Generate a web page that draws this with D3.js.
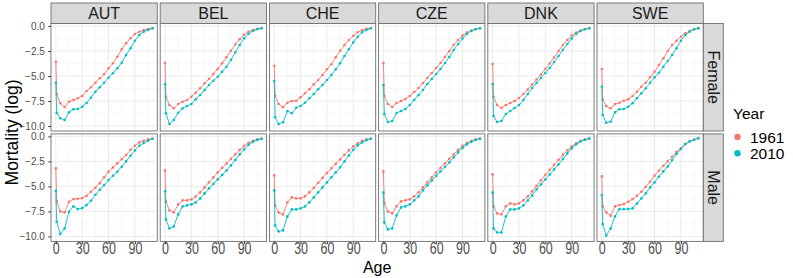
<!DOCTYPE html>
<html><head><meta charset="utf-8">
<script src="https://cdn.jsdelivr.net/npm/d3@7"></script>
<style>body{margin:0;background:#fff}svg{display:block}text{font-family:"Liberation Sans",Arial,sans-serif}</style>
</head><body>
<script>
const ages = [0,1,5,10,15,20,25,30,35,40,45,50,55,60,65,70,75,80,85,90,95,100,105,110];
const countries = ["AUT","BEL","CHE","CZE","DNK","SWE"];
const sexes = ["Female","Male"];
const years = ["1961","2010"];
const xTicks = [0,30,60,90];
const yTicks = [0,-2.5,-5,-7.5,-10];

// log mortality, one array per country / sex / year
const AUT_Female_1961 = [-3.57,-6.83,-7.73,-8.1,-7.57,-7.4,-7.23,-7.0,-6.5,-6.13,-5.67,-5.23,-4.8,-4.23,-3.73,-3.07,-2.33,-1.73,-1.23,-0.8,-0.57,-0.4,-0.3,-0.23];
const AUT_Female_2010 = [-5.67,-8.67,-9.23,-9.4,-8.63,-8.33,-8.3,-8.07,-7.7,-7.17,-6.57,-6.13,-5.67,-5.17,-4.73,-4.23,-3.67,-2.9,-2.23,-1.47,-0.9,-0.57,-0.4,-0.23];
const BEL_Female_1961 = [-3.67,-7.07,-7.9,-8.23,-7.8,-7.57,-7.4,-7.07,-6.67,-6.23,-5.73,-5.3,-4.8,-4.3,-3.73,-3.13,-2.47,-1.83,-1.33,-0.87,-0.57,-0.4,-0.27,-0.23];
const BEL_Female_2010 = [-5.83,-8.73,-9.8,-9.4,-8.67,-8.23,-8.0,-7.8,-7.33,-6.9,-6.4,-5.9,-5.47,-5.07,-4.57,-4.07,-3.4,-2.63,-1.9,-1.23,-0.8,-0.5,-0.33,-0.23];
const CHE_Female_1961 = [-3.97,-6.97,-7.8,-8.13,-7.67,-7.5,-7.47,-7.13,-6.73,-6.33,-5.83,-5.4,-4.9,-4.33,-3.83,-3.13,-2.47,-1.9,-1.4,-0.97,-0.63,-0.4,-0.27,-0.23];
const CHE_Female_2010 = [-5.5,-9.13,-9.8,-9.63,-8.5,-8.73,-8.17,-8.0,-7.67,-7.23,-6.8,-6.33,-5.9,-5.4,-4.9,-4.33,-3.73,-3.0,-2.33,-1.63,-1.07,-0.63,-0.4,-0.23];
const CZE_Female_1961 = [-3.7,-7.0,-7.8,-8.1,-7.7,-7.5,-7.3,-7.0,-6.6,-6.2,-5.7,-5.2,-4.7,-4.2,-3.7,-3.1,-2.5,-1.9,-1.4,-0.95,-0.65,-0.45,-0.3,-0.23];
const CZE_Female_2010 = [-5.9,-8.8,-9.6,-9.5,-8.7,-8.5,-8.3,-7.9,-7.4,-6.9,-6.4,-5.8,-5.3,-4.8,-4.3,-3.7,-3.1,-2.4,-1.8,-1.25,-0.8,-0.5,-0.33,-0.23];
const DNK_Female_1961 = [-3.8,-7.1,-7.9,-8.2,-7.9,-7.7,-7.5,-7.2,-6.8,-6.35,-5.85,-5.35,-4.85,-4.3,-3.75,-3.15,-2.5,-1.9,-1.4,-0.95,-0.65,-0.45,-0.3,-0.23];
const DNK_Female_2010 = [-5.8,-9.0,-9.6,-9.5,-8.8,-8.5,-8.2,-7.9,-7.4,-6.8,-6.2,-5.7,-5.2,-4.7,-4.2,-3.6,-3.0,-2.4,-1.8,-1.25,-0.8,-0.5,-0.33,-0.23];
const SWE_Female_1961 = [-4.3,-7.33,-8.0,-8.23,-7.8,-7.67,-7.47,-7.33,-7.0,-6.57,-6.07,-5.67,-5.13,-4.57,-3.9,-3.23,-2.5,-1.9,-1.47,-1.07,-0.73,-0.5,-0.33,-0.23];
const SWE_Female_2010 = [-6.07,-8.9,-9.67,-9.57,-8.63,-8.33,-8.3,-8.07,-7.73,-7.23,-6.73,-6.23,-5.67,-5.13,-4.67,-4.07,-3.5,-2.9,-2.23,-1.47,-0.9,-0.57,-0.33,-0.23];
const AUT_Male_1961 = [-3.2,-6.5,-7.5,-7.6,-6.53,-6.27,-6.23,-6.17,-5.93,-5.53,-5.13,-4.67,-4.1,-3.53,-3.1,-2.7,-2.27,-1.87,-1.33,-0.93,-0.6,-0.43,-0.3,-0.23];
const AUT_Male_2010 = [-5.43,-8.53,-9.77,-9.2,-7.53,-7.0,-7.27,-7.17,-6.87,-6.43,-5.83,-5.33,-4.87,-4.37,-3.93,-3.53,-3.03,-2.5,-1.93,-1.4,-0.93,-0.67,-0.43,-0.23];
const BEL_Male_1961 = [-3.4,-6.5,-7.4,-7.6,-6.8,-6.4,-6.4,-6.3,-6.0,-5.6,-5.1,-4.6,-4.1,-3.6,-3.15,-2.7,-2.25,-1.8,-1.35,-0.95,-0.65,-0.45,-0.3,-0.23];
const BEL_Male_2010 = [-5.5,-8.3,-9.2,-9.0,-7.8,-7.0,-6.9,-6.8,-6.6,-6.2,-5.7,-5.2,-4.75,-4.3,-3.85,-3.4,-2.9,-2.35,-1.8,-1.3,-0.85,-0.55,-0.35,-0.23];
const CHE_Male_1961 = [-3.9,-6.9,-7.6,-7.8,-6.6,-6.1,-6.2,-6.2,-6.0,-5.6,-5.15,-4.65,-4.15,-3.65,-3.2,-2.75,-2.3,-1.85,-1.4,-1.0,-0.7,-0.45,-0.3,-0.23];
const CHE_Male_2010 = [-5.4,-8.9,-9.5,-9.4,-8.0,-7.3,-7.3,-7.2,-7.0,-6.6,-6.1,-5.6,-5.1,-4.6,-4.1,-3.6,-3.1,-2.5,-1.9,-1.35,-0.9,-0.6,-0.38,-0.23];
const CZE_Male_1961 = [-3.5,-6.7,-7.5,-7.7,-7.0,-6.5,-6.4,-6.3,-6.0,-5.6,-5.1,-4.6,-4.1,-3.6,-3.15,-2.7,-2.25,-1.8,-1.35,-0.95,-0.65,-0.45,-0.3,-0.23];
const CZE_Male_2010 = [-5.6,-8.6,-9.3,-9.2,-7.9,-7.1,-7.0,-6.8,-6.4,-6.0,-5.4,-4.9,-4.4,-3.95,-3.5,-3.05,-2.6,-2.1,-1.6,-1.15,-0.8,-0.55,-0.35,-0.23];
const DNK_Male_1961 = [-3.8,-7.0,-7.7,-7.8,-7.0,-6.7,-6.8,-6.7,-6.4,-6.0,-5.5,-4.95,-4.4,-3.85,-3.35,-2.85,-2.35,-1.85,-1.4,-1.0,-0.7,-0.45,-0.3,-0.23];
const DNK_Male_2010 = [-5.6,-9.2,-9.6,-9.6,-8.0,-7.3,-7.3,-7.2,-6.9,-6.4,-5.9,-5.3,-4.8,-4.3,-3.8,-3.3,-2.8,-2.25,-1.7,-1.2,-0.8,-0.52,-0.35,-0.2];
const SWE_Male_1961 = [-4.0,-7.0,-7.6,-7.93,-7.0,-6.87,-6.77,-6.53,-6.27,-5.93,-5.53,-5.03,-4.53,-3.93,-3.43,-2.93,-2.5,-2.03,-1.53,-1.17,-0.77,-0.5,-0.33,-0.2];
const SWE_Male_2010 = [-5.87,-8.77,-9.93,-9.2,-8.0,-7.27,-7.27,-7.27,-7.2,-6.7,-6.2,-5.7,-5.1,-4.6,-4.03,-3.5,-3.0,-2.37,-1.77,-1.27,-0.77,-0.5,-0.33,-0.17];

const series = {
  AUT:{Female:{"1961":AUT_Female_1961,"2010":AUT_Female_2010},Male:{"1961":AUT_Male_1961,"2010":AUT_Male_2010}},
  BEL:{Female:{"1961":BEL_Female_1961,"2010":BEL_Female_2010},Male:{"1961":BEL_Male_1961,"2010":BEL_Male_2010}},
  CHE:{Female:{"1961":CHE_Female_1961,"2010":CHE_Female_2010},Male:{"1961":CHE_Male_1961,"2010":CHE_Male_2010}},
  CZE:{Female:{"1961":CZE_Female_1961,"2010":CZE_Female_2010},Male:{"1961":CZE_Male_1961,"2010":CZE_Male_2010}},
  DNK:{Female:{"1961":DNK_Female_1961,"2010":DNK_Female_2010},Male:{"1961":DNK_Male_1961,"2010":DNK_Male_2010}},
  SWE:{Female:{"1961":SWE_Female_1961,"2010":SWE_Female_2010},Male:{"1961":SWE_Male_1961,"2010":SWE_Male_2010}}
};

const W = 793, H = 278;
const colors = {"1961":"#F8766D","2010":"#00BFC4"};
const left0 = 51, panelW = 106.3, gapX = 2.9;
const stripTop = 3, stripH = 20.5;
const top0 = stripTop + stripH, panelH = 107.5, gapY = 2.9;
const borderCol = "#6E6E6E";

const svg = d3.select("body").append("svg").attr("width", W).attr("height", H);

const x = d3.scaleLinear().domain([-5.5, 115.5]).range([0, panelW]);
const y = d3.scaleLinear().domain([-10.5, 0.25]).range([panelH, 0]);
const line = d3.line().x((d,i)=>x(ages[i])).y(d=>y(d));

const xMinor = [15,45,75,105];
const yMinor = [-1.25,-3.75,-6.25,-8.75];

countries.forEach((c, ci) => {
  const px = left0 + ci*(panelW+gapX);
  svg.append("rect").attr("x", px).attr("y", stripTop).attr("width", panelW).attr("height", stripH)
    .attr("fill", "#D9D9D9").attr("stroke", borderCol).attr("stroke-width", 0.9);
  svg.append("text").attr("x", px+panelW/2).attr("y", stripTop+stripH/2+5.8)
    .attr("text-anchor","middle").attr("font-size", 16).attr("fill","#1a1a1a").text(c);
  sexes.forEach((s, si) => {
    const py = top0 + si*(panelH+gapY);
    const g = svg.append("g").attr("transform", `translate(${px},${py})`);
    g.append("rect").attr("width", panelW).attr("height", panelH).attr("fill", "#fff");
    g.selectAll(".gxm").data(xMinor).join("line").attr("x1", d=>x(d)).attr("x2", d=>x(d))
      .attr("y1",0).attr("y2",panelH).attr("stroke","#F2F2F2").attr("stroke-width",0.6);
    g.selectAll(".gym").data(yMinor).join("line").attr("y1", d=>y(d)).attr("y2", d=>y(d))
      .attr("x1",0).attr("x2",panelW).attr("stroke","#F2F2F2").attr("stroke-width",0.6);
    g.selectAll(".gx").data(xTicks).join("line").attr("x1", d=>x(d)).attr("x2", d=>x(d))
      .attr("y1",0).attr("y2",panelH).attr("stroke","#EBEBEB").attr("stroke-width",1);
    g.selectAll(".gy").data(yTicks).join("line").attr("y1", d=>y(d)).attr("y2", d=>y(d))
      .attr("x1",0).attr("x2",panelW).attr("stroke","#EBEBEB").attr("stroke-width",1);
    years.forEach(yr => {
      const vals = series[c][s][yr];
      g.append("path").datum(vals).attr("d", line).attr("fill","none")
        .attr("stroke", colors[yr]).attr("stroke-width", 0.9);
      g.selectAll(null).data(vals).join("circle")
        .attr("cx", (d,i)=>x(ages[i])).attr("cy", d=>y(d)).attr("r", 1.3).attr("fill", colors[yr]);
    });
    g.append("rect").attr("width", panelW).attr("height", panelH).attr("fill","none")
      .attr("stroke",borderCol).attr("stroke-width",0.9);
    if (ci === 0) {
      const ax = d3.axisLeft(y).tickValues(yTicks).tickSize(2.7).tickFormat(d3.format(".1f"));
      const ag = g.append("g").call(ax);
      ag.select(".domain").remove();
      ag.selectAll("line").attr("stroke","#333");
      ag.selectAll("text").attr("font-size",10).attr("fill","#4D4D4D").attr("font-family",'"Liberation Sans",Arial,sans-serif').attr("dx", -0.5)
        .text(d => d3.format(".1f")(d).replace("-","\u2212"));
    }
    if (si === 1) {
      const ax = d3.axisBottom(x).tickValues(xTicks).tickSize(2.7).tickFormat(d3.format("d"));
      const ag = g.append("g").attr("transform", `translate(0,${panelH})`).call(ax);
      ag.select(".domain").remove();
      ag.selectAll("line").attr("stroke","#333");
      ag.selectAll("text").attr("font-size",16).attr("fill","#4D4D4D").attr("font-family",'"Liberation Sans",Arial,sans-serif')
        .attr("dy","0.40em").attr("transform","scale(0.78,1)");
    }
    if (ci === countries.length-1) {
      const sx = px + panelW;
      svg.append("rect").attr("x", sx).attr("y", py).attr("width", 20).attr("height", panelH)
        .attr("fill","#D9D9D9").attr("stroke",borderCol).attr("stroke-width",0.9);
      svg.append("text").attr("transform", `translate(${sx+10-5.8},${py+panelH/2}) rotate(90)`)
        .attr("text-anchor","middle").attr("font-size",16).attr("fill","#1a1a1a").text(s);
    }
  });
});

const plotMidX = left0 + (countries.length*panelW + (countries.length-1)*gapX)/2;
svg.append("text").attr("x", plotMidX).attr("y", 272.5).attr("text-anchor","middle")
  .attr("font-size",16).attr("fill","#000").text("Age");
const plotMidY = top0 + (2*panelH+gapY)/2;
svg.append("text").attr("transform", `translate(18,${plotMidY}) rotate(-90)`).attr("text-anchor","middle")
  .attr("font-size",17.5).attr("fill","#000").text("Mortality (log)");

const lg = svg.append("g").attr("transform","translate(733,0)");
lg.append("text").attr("x",0).attr("y",119).attr("font-size",15.5).attr("fill","#000").text("Year");
years.forEach((yr,i) => {
  lg.append("circle").attr("cx",4.5).attr("cy",137+i*16.2).attr("r",3.2).attr("fill",colors[yr]);
  lg.append("text").attr("x",17).attr("y",142.5+i*16.2).attr("font-size",15.5).attr("fill","#000").text(yr);
});
</script>
</body></html>
